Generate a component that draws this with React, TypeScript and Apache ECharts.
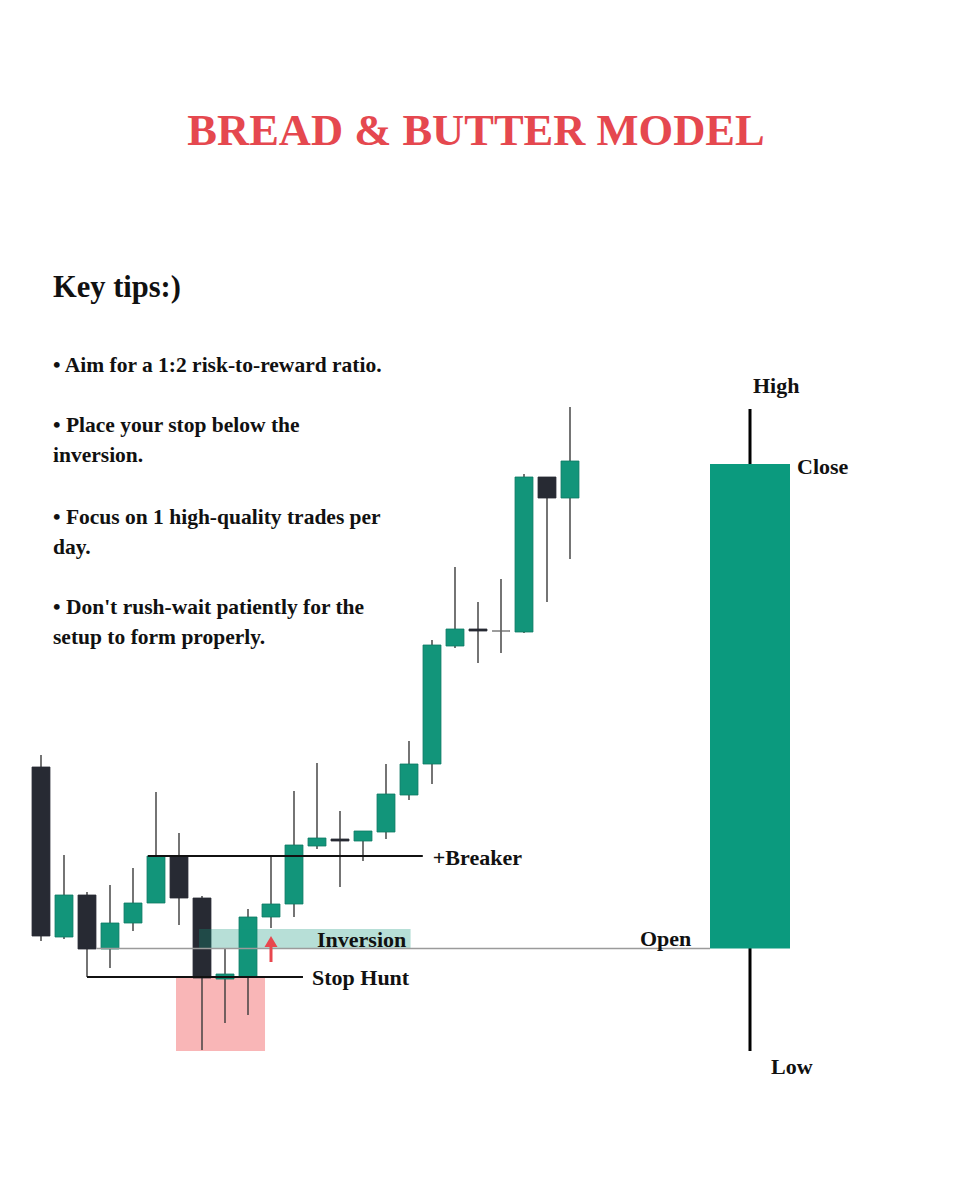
import React, { useEffect, useRef } from "react";
import * as echarts from "echarts";

const TITLE = "BREAD & BUTTER MODEL";
const TIPS_HEADING = "Key tips:)";
const TIP_LINES = [
  "• Aim for a 1:2 risk-to-reward ratio.",
  "• Place your stop below the",
  "inversion.",
  "• Focus on 1 high-quality trades per",
  "day.",
  "• Don't rush-wait patiently for the",
  "setup to form properly.",
];
const TIP_LINE_Y = [365, 425, 455, 517, 547, 607, 637];

// Candles (index, open, close, low, high)
const candleIndex = [0, 1, 2, 3, 4, 5, 6, 7, 8, 9, 10, 11, 12, 13, 14, 15, 16, 17, 18, 19, 20, 21, 22, 23];
const opens = [33.3, 16.3, 20.5, 15.1, 17.7, 19.7, 24.4, 20.2, 12.1, 12.3, 18.3, 19.6, 25.4, 26.1, 25.9, 26.8, 30.5, 33.6, 45.4, 47.1, 46.9, 46.8, 62.3, 60.2];
const closes = [16.4, 20.5, 15.1, 17.7, 19.7, 24.4, 20.2, 12.2, 12.6, 18.3, 19.6, 25.5, 26.2, 25.9, 26.9, 30.6, 33.6, 45.5, 47.1, 46.9, 46.9, 62.3, 60.2, 63.9];
const lows = [15.9, 16.1, 12.3, 13.2, 16.9, 19.7, 17.5, 5.0, 7.7, 8.5, 17.2, 18.3, 25.1, 21.3, 23.9, 26.1, 30.0, 31.6, 45.2, 43.7, 44.7, 46.7, 49.8, 54.1];
const highs = [34.5, 24.5, 20.8, 21.5, 23.2, 30.8, 26.7, 20.4, 15.1, 19.1, 24.3, 30.9, 33.7, 28.9, 26.9, 33.6, 35.9, 46.0, 53.3, 49.8, 52.1, 62.6, 62.3, 69.3];

// Anatomy candle: open, close, low, high
const bigCandle = [15.15, 63.6, 4.9, 69.1];

// Annotation levels
const breakerLevel = 24.4;
const breakerSpan = [4.65, 16.6];
const stopHuntLevel = 12.3;
const stopHuntSpan = [2.0, 11.39];
const stopHuntZone = [4.9, 12.3];
const stopHuntZoneSpan = [5.87, 9.74];
const inversionZone = [15.1, 17.1];
const inversionSpan = [6.87, 16.07];
const openLevel = 15.15;
const openLineStart = 2.4;
const arrowIndex = 10;
const arrowRange = [13.8, 16.4];

const GREEN = "#12957a";
const GREEN_EDGE = "#0c7863";
const DARK = "#272a33";
const WICK = "#3a3a3a";
const BIG_GREEN = "#0b9a7e";
const FONT = '"Liberation Serif", "Times New Roman", serif';

export default function App() {
  const ref = useRef<HTMLDivElement>(null);

  useEffect(() => {
    if (!ref.current) return;
    const chart = echarts.init(ref.current, undefined, { renderer: "svg" });

    const smallData = candleIndex.map((i) => [i, opens[i], closes[i], lows[i], highs[i]]);

    const renderSmall = (params: any, api: any) => {
      const x = api.value(0);
      const o = api.value(1);
      const c = api.value(2);
      const l = api.value(3);
      const h = api.value(4);
      const [cx, yo] = api.coord([x, o]);
      const yc = api.coord([x, c])[1];
      const yl = api.coord([x, l])[1];
      const yh = api.coord([x, h])[1];
      const band = api.size([1, 0])[0];
      const w = band * 0.78;
      const children: any[] = [
        {
          type: "line",
          shape: { x1: cx, y1: yh, x2: cx, y2: yl },
          style: { stroke: WICK, lineWidth: 1.4 },
        },
      ];
      if (c === o) {
        children.push({
          type: "line",
          shape: { x1: cx - w / 2, y1: yo, x2: cx + w / 2, y2: yo },
          style: { stroke: "#666", lineWidth: 1.3 },
        });
      } else {
        const up = c > o;
        const top = Math.min(yo, yc);
        const bh = Math.max(Math.abs(yo - yc), 2);
        children.push({
          type: "rect",
          shape: { x: cx - w / 2, y: top, width: w, height: bh },
          style: { fill: up ? GREEN : DARK, stroke: up ? GREEN_EDGE : DARK, lineWidth: 0.8 },
        });
      }
      return { type: "group", children };
    };

    const renderBig = (params: any, api: any) => {
      const x = api.value(0);
      const o = api.value(1);
      const c = api.value(2);
      const l = api.value(3);
      const h = api.value(4);
      const [cx, yo] = api.coord([x, o]);
      const yc = api.coord([x, c])[1];
      const yl = api.coord([x, l])[1];
      const yh = api.coord([x, h])[1];
      const w = api.size([1, 0])[0];
      return {
        type: "group",
        children: [
          { type: "line", shape: { x1: cx, y1: yh, x2: cx, y2: yl }, style: { stroke: "#000", lineWidth: 3 } },
          {
            type: "rect",
            shape: { x: cx - w / 2, y: Math.min(yo, yc), width: w, height: Math.abs(yo - yc) },
            style: { fill: BIG_GREEN },
          },
        ],
      };
    };

    chart.setOption({
      animation: false,
      backgroundColor: "#ffffff",
      grid: [
        { left: 29.5, top: 400, width: 552, height: 700 },
        { left: 710, top: 400, width: 80, height: 700 },
      ],
      xAxis: [
        { type: "value", gridIndex: 0, min: -0.5, max: 23.5, show: false },
        { type: "value", gridIndex: 1, min: -0.5, max: 0.5, show: false },
      ],
      yAxis: [
        { type: "value", gridIndex: 0, min: 0, max: 70, show: false },
        { type: "value", gridIndex: 1, min: 0, max: 70, show: false },
      ],
      series: [
        {
          type: "custom",
          xAxisIndex: 0,
          yAxisIndex: 0,
          z: 3,
          clip: false,
          renderItem: renderSmall,
          encode: { x: 0, y: [1, 2, 3, 4] },
          data: smallData,
        },
        {
          type: "custom",
          xAxisIndex: 1,
          yAxisIndex: 1,
          z: 3,
          clip: false,
          renderItem: renderBig,
          encode: { x: 0, y: [1, 2, 3, 4] },
          data: [[0, ...bigCandle]],
        },
      ],
    });

    const p0 = (x: number, y: number) => chart.convertToPixel({ gridIndex: 0 } as any, [x, y]) as number[];
    const p1 = (x: number, y: number) => chart.convertToPixel({ gridIndex: 1 } as any, [x, y]) as number[];

    const txt = (text: string, x: number, y: number, size: number, opts: any = {}) => ({
      type: "text",
      x,
      y,
      z: 20,
      style: {
        text,
        fill: opts.fill || "#111",
        font: `bold ${size}px ${FONT}`,
        textAlign: opts.align || "left",
        textVerticalAlign: "middle",
        verticalAlign: "middle",
      },
    });

    const graphics: any[] = [];

    // stop-hunt pink zone (behind candles)
    {
      const a = p0(stopHuntZoneSpan[0], stopHuntZone[1]);
      const b = p0(stopHuntZoneSpan[1], stopHuntZone[0]);
      graphics.push({
        type: "rect",
        z: 1,
        shape: { x: a[0], y: a[1], width: b[0] - a[0], height: b[1] - a[1] },
        style: { fill: "#f9b6b7" },
      });
    }
    // inversion zone (over candles, translucent)
    {
      const a = p0(inversionSpan[0], inversionZone[1]);
      const b = p0(inversionSpan[1], inversionZone[0]);
      graphics.push({
        type: "rect",
        z: 5,
        shape: { x: a[0], y: a[1], width: b[0] - a[0], height: b[1] - a[1] },
        style: { fill: "rgba(18,150,122,0.3)" },
      });
      graphics.push(txt("Inversion", 317, (a[1] + b[1]) / 2, 22));
    }
    // open line
    {
      const a = p0(openLineStart, openLevel);
      const b = p1(-0.5, openLevel);
      graphics.push({
        type: "line",
        z: 6,
        shape: { x1: a[0], y1: a[1], x2: b[0], y2: b[1] },
        style: { stroke: "#9b9b9b", lineWidth: 1.5 },
      });
      graphics.push(txt("Open", 640, b[1] - 10, 22));
    }
    // stop hunt line
    {
      const a = p0(stopHuntSpan[0], stopHuntLevel);
      const b = p0(stopHuntSpan[1], stopHuntLevel);
      graphics.push({
        type: "line",
        z: 6,
        shape: { x1: a[0], y1: a[1], x2: b[0], y2: b[1] },
        style: { stroke: "#111", lineWidth: 2 },
      });
      graphics.push(txt("Stop Hunt", b[0] + 9, b[1], 22));
    }
    // breaker line
    {
      const a = p0(breakerSpan[0], breakerLevel);
      const b = p0(breakerSpan[1], breakerLevel);
      graphics.push({
        type: "line",
        z: 6,
        shape: { x1: a[0], y1: a[1], x2: b[0], y2: b[1] },
        style: { stroke: "#111", lineWidth: 2 },
      });
      graphics.push(txt("+Breaker", b[0] + 10, b[1] + 1, 22));
    }
    // arrow
    {
      const a = p0(arrowIndex, arrowRange[0]);
      const b = p0(arrowIndex, arrowRange[1]);
      graphics.push({
        type: "line",
        z: 7,
        shape: { x1: a[0], y1: a[1], x2: b[0], y2: b[1] + 8 },
        style: { stroke: "#e8474e", lineWidth: 3 },
      });
      graphics.push({
        type: "polygon",
        z: 7,
        shape: { points: [[b[0] - 6.5, b[1] + 11], [b[0] + 6.5, b[1] + 11], [b[0], b[1]]] },
        style: { fill: "#e8474e" },
      });
    }
    // anatomy labels
    {
      const hi = p1(0, bigCandle[3]);
      const cl = p1(0.5, bigCandle[1]);
      const lo = p1(0, bigCandle[2]);
      graphics.push(txt("High", hi[0] + 3, hi[1] - 24, 22));
      graphics.push(txt("Close", cl[0] + 7, cl[1] + 2, 22));
      graphics.push(txt("Low", lo[0] + 21, lo[1] + 15, 22));
    }

    // titles & tips
    graphics.push(txt(TITLE, 476, 130, 44.5, { fill: "#e5484f", align: "center" }));
    graphics.push(txt(TIPS_HEADING, 53, 287, 30.5));
    TIP_LINES.forEach((line, i) => graphics.push(txt(line, 53, TIP_LINE_Y[i], 21.5)));

    chart.setOption({ graphic: graphics });

    return () => chart.dispose();
  }, []);

  return (
    <div
      ref={ref}
      style={{ position: "absolute", left: 0, top: 0, width: 967, height: 1200, background: "#fff" }}
    />
  );
}
